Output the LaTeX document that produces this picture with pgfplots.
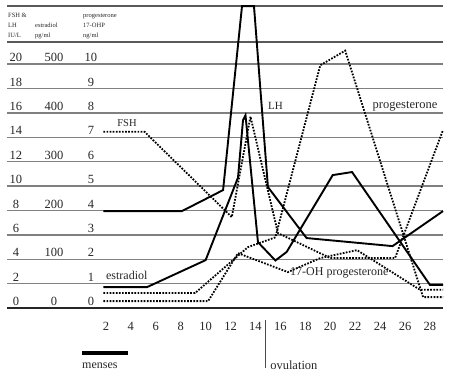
\documentclass[border=0pt]{standalone}
\usepackage{fontspec}
\setmainfont{Liberation Serif}
\usepackage{pgfplots}
\pgfplotsset{compat=1.18}

\pgfplotstableread{
d v
1.8 7.95
8.1 7.95
11.4 9.67
12.92 24.75
13.88 24.75
15.0 9.92
18.1 5.74
25.0 5.08
29.05 7.95
}\lhdata

\pgfplotstableread{
d v
1.8 1.72
5.3 1.72
10.0 3.93
12.6 10.7
13.0 15.4
13.2 15.8
14.2 5.4
15.6 3.9
16.5 4.6
20.2 10.9
21.75 11.15
28.0 1.9
29.05 1.9
}\estdata

\pgfplotstableread{
d v
1.8 14.45
5.1 14.45
12.1 7.46
13.6 15.7
15.8 6.15
20.0 4.1
25.2 4.1
29.05 14.6
}\fshdata

\pgfplotstableread{
d v
1.8 1.23
9.15 1.23
13.4 5.0
15.6 5.8
19.2 19.9
21.2 21.1
27.45 0.9
29.05 0.9
}\progdata

\pgfplotstableread{
d v
1.8 0.57
10.2 0.57
12.6 4.5
16.6 2.95
19.2 4.1
22.15 4.75
27.2 1.5
29.05 1.5
}\ohpdata

\tikzset{
  solidser/.style={black, line width=1.9pt, line join=miter},
  dotser/.style={black, line width=1.8pt, line cap=butt, dash pattern=on 1.7pt off 1.4pt},
  num/.style={inner sep=0pt, anchor=base, text=black!85, font=\fontsize{12.5}{14}\selectfont},
  hdr/.style={inner sep=0pt, anchor=base west, text=black!85, font=\fontsize{6.5}{7}\selectfont},
  lab/.style={inner sep=0pt, text=black!85, font=\fontsize{12}{14}\selectfont},
}

\begin{document}
\begin{tikzpicture}
\begin{axis}[
  x=12.46pt, y=12.2pt,
  scale only axis,
  xmin=-5.94, xmax=29.05, ymin=0, ymax=24.75,
  axis line style={draw=none},
  major tick length=0pt,
  xtick={2,4,...,28},
  ytick={2,4,...,20},
  yticklabels={},
  ymajorgrids,
  grid style={color=black!50, line width=1.3pt},
  xticklabel style={font=\fontsize{12.5}{14}\selectfont, text=black!85, anchor=base, yshift=-22pt, inner sep=0pt},
  clip=false,
  /pgf/number format/assume math mode=true,
]
\draw[black!85, line width=2.4pt] (axis cs:-5.94,0) -- (axis cs:29.05,0);
\draw[black!65, line width=1.5pt] (axis cs:-5.94,21.8) -- (axis cs:29.05,21.8);
\draw[black!65, line width=1.5pt] (axis cs:-5.94,24.75) -- (axis cs:29.05,24.75);

\addplot[solidser] table[x=d,y=v] {\lhdata};
\addplot[solidser] table[x=d,y=v] {\estdata};
\addplot[dotser] table[x=d,y=v] {\fshdata};
\addplot[dotser] table[x=d,y=v] {\progdata};
\addplot[dotser] table[x=d,y=v] {\ohpdata};

% menses bar and ovulation mark
\addplot[black, line width=4pt, line cap=butt] coordinates {(0.08,-3.69) (3.77,-3.69)};
\addplot[black!70, line width=0.8pt] coordinates {(14.77,-0.98) (14.77,-4.9)};

% left scale labels
\pgfplotsinvokeforeach{0,2,4,6,8,10,12,14,16,18,20}{
  \node[num] at (axis cs:-5.22,#1+0.2) {#1};
}
\node[num] at (axis cs:-2.17,20.2) {500};
\node[num] at (axis cs:-2.17,16.2) {400};
\node[num] at (axis cs:-2.17,12.2) {300};
\node[num] at (axis cs:-2.17,8.2) {200};
\node[num] at (axis cs:-2.17,4.2) {100};
\node[num] at (axis cs:-2.17,0.2) {0};
\node[num] at (axis cs:0.8,20.2) {10};
\node[num] at (axis cs:0.8,18.2) {9};
\node[num] at (axis cs:0.8,16.2) {8};
\node[num] at (axis cs:0.8,14.2) {7};
\node[num] at (axis cs:0.8,12.2) {6};
\node[num] at (axis cs:0.8,10.2) {5};
\node[num] at (axis cs:0.8,8.2) {4};
\node[num] at (axis cs:0.8,6.2) {3};
\node[num] at (axis cs:0.8,4.2) {2};
\node[num] at (axis cs:0.8,2.2) {1};
\node[num] at (axis cs:0.8,0.2) {0};

% header
\node[hdr] at (axis cs:-5.86,23.8) {FSH \&};
\node[hdr] at (axis cs:-5.86,23.0) {LH};
\node[hdr] at (axis cs:-5.86,22.18) {IU/L};
\node[hdr] at (axis cs:-3.69,23.0) {estradiol};
\node[hdr] at (axis cs:-3.69,22.18) {pg/ml};
\node[hdr] at (axis cs:0.16,23.8) {progesterone};
\node[hdr] at (axis cs:0.16,23.0) {17-OHP};
\node[hdr] at (axis cs:0.16,22.18) {ng/ml};

% series labels
\node[lab, font=\fontsize{10.5}{12}\selectfont] at (axis cs:3.69,15.16) {FSH};
\node[lab, font=\fontsize{11}{12}\selectfont] at (axis cs:15.61,16.56) {LH};
\node[lab, font=\fontsize{12.5}{14}\selectfont] at (axis cs:26.0,16.56) {progesterone};
\node[lab, anchor=west] at (axis cs:2.0,2.7) {estradiol};
\node[lab, anchor=west] at (axis cs:16.77,2.87) {17-OH progesterone};
\node[lab, anchor=west] at (axis cs:0.08,-4.75) {menses};
\node[lab, anchor=west, font=\fontsize{12.5}{14}\selectfont] at (axis cs:15.17,-4.67) {ovulation};

\coordinate (bl) at (axis cs:-6.5,-5.57);
\coordinate (tr) at (axis cs:29.61,25.25);
\end{axis}
\pgfresetboundingbox
\path[use as bounding box] (bl) rectangle (tr);
\end{tikzpicture}
\end{document}
